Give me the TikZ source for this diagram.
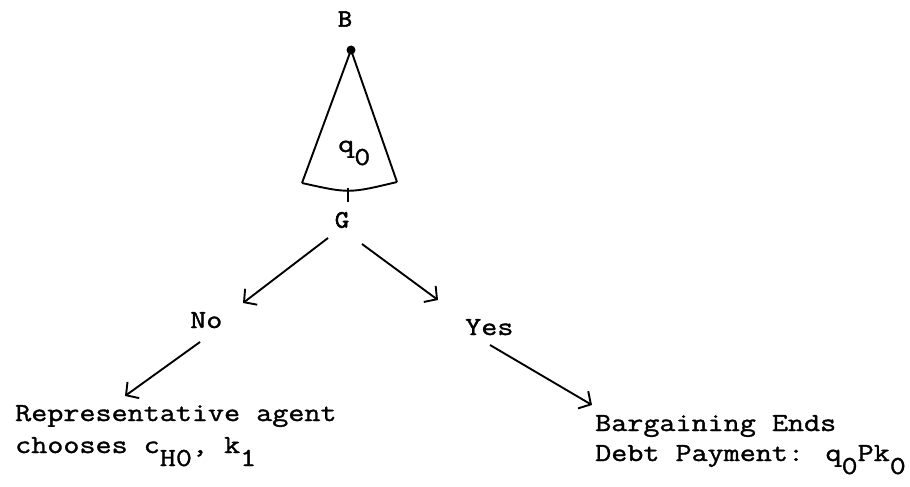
\documentclass[tikz,border=0pt]{standalone}
\usepackage{fontspec}
\setmainfont{Liberation Mono}
\newfontfamily\twfont[FakeStretch=1.2,FakeBold=1.3]{Latin Modern Mono}
\newfontfamily\lblfont[FakeStretch=1.1,FakeBold=2.5]{Latin Modern Mono}
\usetikzlibrary{arrows.meta,calc}
\newcommand\lowr[1]{\raisebox{-13pt}{#1}}
\tikzset{
  txt/.style={inner sep=0pt, anchor=base west, font=\twfont\fontsize{26}{30}\selectfont},
  lbl/.style={inner sep=0pt, font=\lblfont\fontsize{25}{28}\selectfont},
  arr/.style={line width=1.9pt, -{Straight Barb[length=9pt,width=20pt,line width=1.9pt]}},
  ln/.style={line width=1.9pt}
}
\begin{document}
\begin{tikzpicture}[x=1pt,y=-1pt]
\useasboundingbox (0,0) rectangle (910,487);
% top: B, dot, triangle
\node[lbl] (B) at (345,19) {B};
\coordinate (apex) at (351,50);
\coordinate (tl) at (302,183);
\coordinate (tr) at (397,182);
\coordinate (tb) at (348,188);
\fill (apex) circle (4.5);
\draw[ln, line join=round] (tl) -- (apex) -- (tr);
\draw[ln] (tl) .. controls (349,193.5) .. (tr);
\node[txt] (q) at (338,152) {q\lowr{0}};
\coordinate (tick) at (348,202);
\draw[ln] (tb) -- (tick);
\node[lbl] (G) at (342,220) {G};
% branches
\node[txt] (No) at (190,328) {No};
\node[txt] (Yes) at (465,335) {Yes};
\draw[arr] ($(G)+(-14,18)$) -- ($(No.base west)+(53,-25)$);
\draw[arr] ($(G)+(20,24)$) -- ($(Yes.base west)+(-27,-35)$);
% outcomes
\node[txt] (rep1) at (15,421) {Representative agent};
\node[txt] (rep2) at (15,453) {chooses c\lowr{H0}, k\lowr{1}};
\node[txt] (barg1) at (595,431) {Bargaining Ends};
\node[txt] (barg2) at (595,461) {Debt Payment: q\lowr{0}Pk\lowr{0}};
\draw[arr] ($(No.base west)+(10,14)$) -- ($(rep1.base west)+(110,-25)$);
\draw[arr] ($(Yes.base west)+(25,10)$) -- ($(barg1.base west)+(-3,-26)$);
\end{tikzpicture}
\end{document}
